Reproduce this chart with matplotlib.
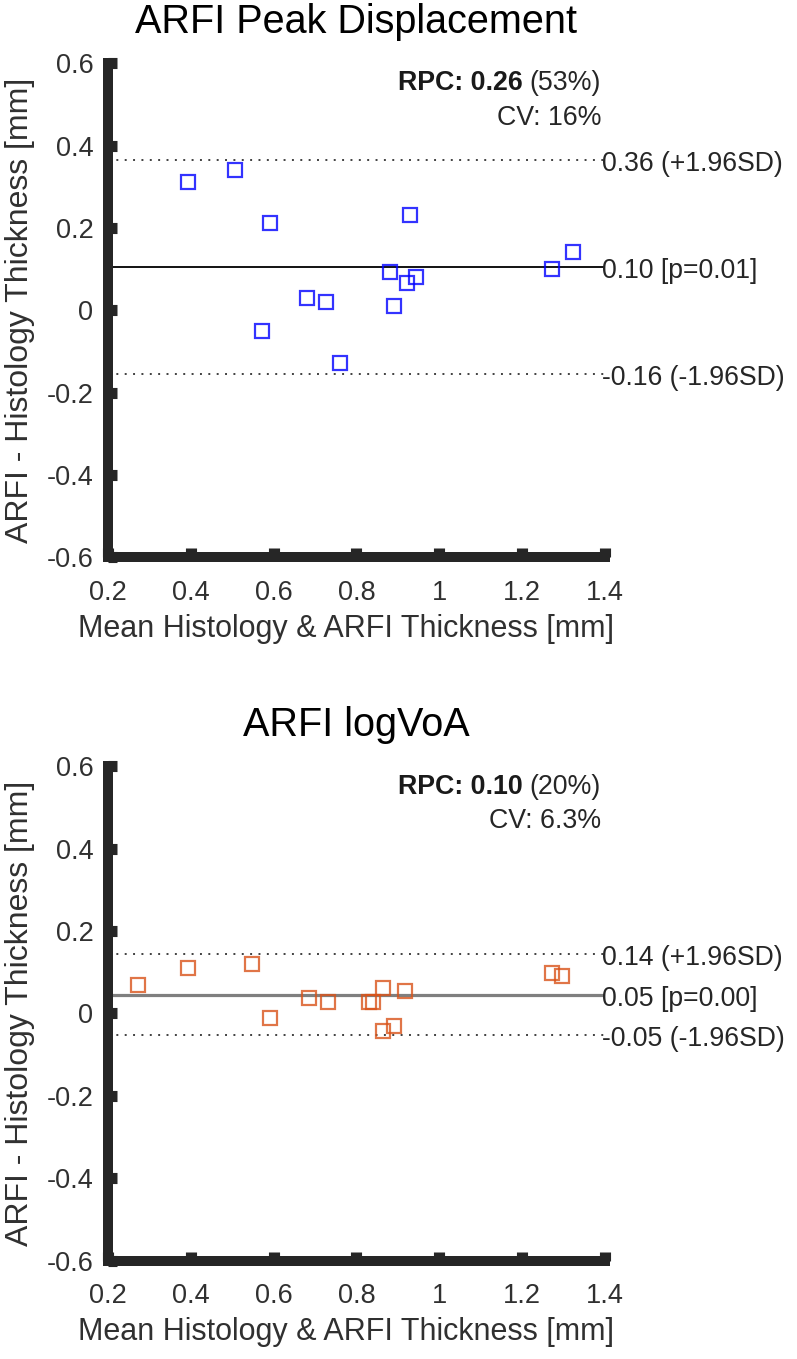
"""Bland-Altman plots: ARFI vs histology thickness"""

import numpy as np
import matplotlib
matplotlib.use("Agg")
import matplotlib.pyplot as plt

REGULAR = ["Liberation Sans", "DejaVu Sans"]
plt.rcParams["font.family"] = REGULAR

TITLES = ["ARFI Peak Displacement", "ARFI logVoA"]
XLABEL = "Mean Histology & ARFI Thickness [mm]"
YLABEL = "ARFI - Histology Thickness [mm]"

# Mean of histology & ARFI thickness (x) and ARFI - histology (y)
PD_MEAN = [0.392, 0.506, 0.591, 0.930, 1.323, 1.273, 0.880, 0.944, 0.923,
           0.680, 0.727, 0.891, 0.571, 0.760]
PD_DIFF = [0.311, 0.341, 0.212, 0.231, 0.142, 0.100, 0.093, 0.081, 0.067,
           0.031, 0.021, 0.010, -0.049, -0.129]

VOA_MEAN = [0.273, 0.392, 0.547, 0.591, 0.686, 0.731, 0.830, 0.841, 0.865,
            0.864, 0.891, 0.918, 1.273, 1.297]
VOA_DIFF = [0.069, 0.110, 0.119, -0.012, 0.038, 0.028, 0.027, 0.027, 0.061,
            -0.042, -0.031, 0.054, 0.099, 0.090]

# 1.96 SD (reproducibility coefficient)
RPC = [0.26, 0.098]
RPC_TXT = [("RPC: 0.26 ", "(53%)", "CV: 16%"),
           ("RPC: 0.10 ", "(20%)", "CV: 6.3%")]
LINE_TXT = [("0.36 (+1.96SD)", "0.10 [p=0.01]", "-0.16 (-1.96SD)"),
            ("0.14 (+1.96SD)", "0.05 [p=0.00]", "-0.05 (-1.96SD)")]

MARKER_COLORS = ["#0000ff", "#d95319"]
MEAN_LINE = [("black", 1.3), ("#7f7f7f", 2.3)]

XTICKS = [0.2, 0.4, 0.6, 0.8, 1.0, 1.2, 1.4]
XTICKLABELS = ["0.2", "0.4", "0.6", "0.8", "1", "1.2", "1.4"]
YTICKS = [-0.6, -0.4, -0.2, 0.0, 0.2, 0.4, 0.6]
YTICKLABELS = ["-0.6", "-0.4", "-0.2", "0", "0.2", "0.4", "0.6"]

AXCOL = "#262626"
DPI = 100

# =============================================================================
fig = plt.figure(figsize=(797 / DPI, 1359 / DPI), dpi=DPI)
ax_top = fig.add_axes([0.1355, 0.5898, 0.6236, 0.3637])
ax_bot = fig.add_axes([0.1355, 0.0724, 0.6236, 0.3637])

datasets = [(PD_MEAN, PD_DIFF), (VOA_MEAN, VOA_DIFF)]

for i, ax in enumerate([ax_top, ax_bot]):
    x = np.array(datasets[i][0])
    y = np.array(datasets[i][1])
    mean_diff = np.mean(y)

    # Limits of agreement and bias
    for lim in [mean_diff + RPC[i], mean_diff - RPC[i]]:
        ax.axhline(lim, color="#404040", lw=1.4, linestyle=(0, (1, 3.3)),
                   zorder=1)
    ax.axhline(mean_diff, color=MEAN_LINE[i][0], lw=MEAN_LINE[i][1], zorder=1)

    ax.plot(x, y, linestyle="none", marker="s", markersize=9.5,
            markerfacecolor="none", markeredgecolor=MARKER_COLORS[i],
            markeredgewidth=1.6, alpha=0.8, zorder=3)

    # Line labels to the right
    for val, txt in zip([mean_diff + RPC[i], mean_diff, mean_diff - RPC[i]],
                        [LINE_TXT[i][0], LINE_TXT[i][1], LINE_TXT[i][2]]):
        ax.annotate(txt, xy=(1.4, val), xytext=(-3, -4),
                    textcoords="offset pixels", ha="left", va="center",
                    fontsize=19.2, color="#262626", annotation_clip=False)

    # RPC / CV text
    t_reg = ax.text(0.992, 0.959, RPC_TXT[i][1], transform=ax.transAxes,
                    ha="right", va="center", fontsize=19.3, color="#262626")
    ax.annotate(RPC_TXT[i][0], xy=(0, 0), xycoords=t_reg, ha="right",
                va="bottom", fontsize=19.3, fontweight="bold",
                color="#1a1a1a")
    ax.text(0.992, 0.889, RPC_TXT[i][2], transform=ax.transAxes,
            ha="right", va="center", fontsize=19.3, color="#262626")

    # Axes styling
    ax.set_xlim(0.2, 1.4)
    ax.set_ylim(-0.6, 0.6)
    ax.set_xticks(XTICKS)
    ax.set_xticklabels(XTICKLABELS)
    ax.set_yticks(YTICKS)
    ax.set_yticklabels(YTICKLABELS)
    for side in ["top", "right"]:
        ax.spines[side].set_visible(False)
    for side in ["left", "bottom"]:
        ax.spines[side].set_linewidth(7.2)
        ax.spines[side].set_color(AXCOL)
        ax.spines[side].set_zorder(4)
    ax.tick_params(direction="in", length=6.8, width=8, color=AXCOL,
                   labelsize=19.5, labelcolor="#303030")
    ax.tick_params(axis="y", pad=10.5)
    ax.tick_params(axis="x", pad=16)
    for lab in ax.get_yticklabels():
        lab.set_va("center_baseline")

    ax.set_xlabel(XLABEL, fontsize=22, color="#303030")
    ax.xaxis.label.set_va("center")
    ax.xaxis.set_label_coords(0.479, -0.145)
    ax.set_ylabel(YLABEL, fontsize=23, color="#303030")
    ax.yaxis.label.set_va("center")
    ax.yaxis.set_label_coords(-0.177, 0.5)

    ax.set_title(TITLES[i], fontsize=28.5, color="black", y=1.062, pad=0)

plt.savefig("out.png", dpi=DPI)
